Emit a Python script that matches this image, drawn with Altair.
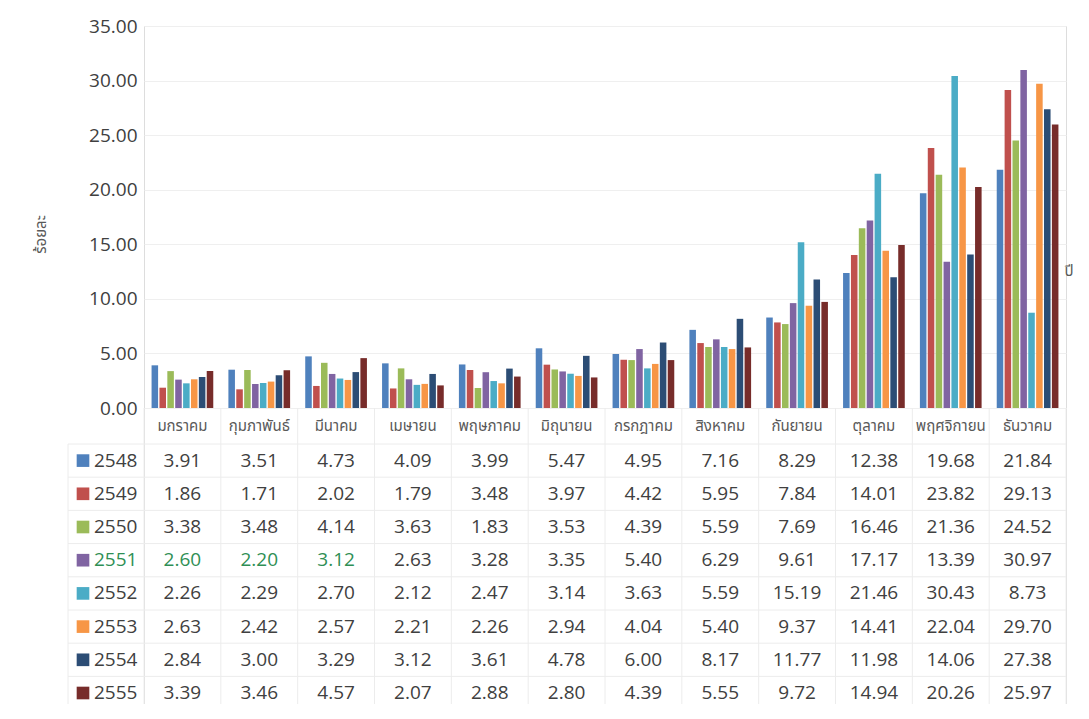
import altair as alt
import pandas as pd

months = ["มกราคม", "กุมภาพันธ์", "มีนาคม", "เมษายน", "พฤษภาคม", "มิถุนายน",
          "กรกฎาคม", "สิงหาคม", "กันยายน", "ตุลาคม", "พฤศจิกายน", "ธันวาคม"]
years = ["2548", "2549", "2550", "2551", "2552", "2553", "2554", "2555"]

v2548 = [3.91, 3.51, 4.73, 4.09, 3.99, 5.47, 4.95, 7.16, 8.29, 12.38, 19.68, 21.84]
v2549 = [1.86, 1.71, 2.02, 1.79, 3.48, 3.97, 4.42, 5.95, 7.84, 14.01, 23.82, 29.13]
v2550 = [3.38, 3.48, 4.14, 3.63, 1.83, 3.53, 4.39, 5.59, 7.69, 16.46, 21.36, 24.52]
v2551 = [2.60, 2.20, 3.12, 2.63, 3.28, 3.35, 5.40, 6.29, 9.61, 17.17, 13.39, 30.97]
v2552 = [2.26, 2.29, 2.70, 2.12, 2.47, 3.14, 3.63, 5.59, 15.19, 21.46, 30.43, 8.73]
v2553 = [2.63, 2.42, 2.57, 2.21, 2.26, 2.94, 4.04, 5.40, 9.37, 14.41, 22.04, 29.70]
v2554 = [2.84, 3.00, 3.29, 3.12, 3.61, 4.78, 6.00, 8.17, 11.77, 11.98, 14.06, 27.38]
v2555 = [3.39, 3.46, 4.57, 2.07, 2.88, 2.80, 4.39, 5.55, 9.72, 14.94, 20.26, 25.97]

y_ticks = [0, 5, 10, 15, 20, 25, 30, 35]
y_title = "ร้อยละ"
x_title = "ปี"

colors = ["#4F81BD", "#C0504D", "#9BBB59", "#8064A2",
          "#4BACC6", "#F79646", "#2C4D75", "#772C2A"]

series = dict(zip(years, [v2548, v2549, v2550, v2551, v2552, v2553, v2554, v2555]))

rows = []
for yr in years:
    for m, v in zip(months, series[yr]):
        rows.append({"month": m, "year": yr, "value": v, "label": f"{v:.2f}"})
df = pd.DataFrame(rows)
hdr = pd.DataFrame({"month": months, "row": ["_hdr"] * len(months)})
yrs = pd.DataFrame({"row": years})

W = 922
H = 678
PLOT_H = 382
ROW = 33.2
R0 = 418.0          # top of first year row (plot coords)
R_END = R0 + 8 * ROW

NUM_FONT = "Open Sans"
THAI_FONT = "Noto Sans Thai, Noto Sans, sans-serif"
TXT = "#404040"
GRID = "#efefef"
LINE = "#ececec"

xs = alt.Scale(domain=months, paddingInner=0, paddingOuter=0)
ty = alt.Scale(domain=years, range=[R0, R_END], paddingInner=0, paddingOuter=0)
th = alt.Scale(domain=["_hdr"], range=[PLOT_H, R0], paddingInner=0, paddingOuter=0)
cs = alt.Scale(domain=years, range=colors)

bars = alt.Chart(df).mark_bar().encode(
    x=alt.X("month:N", scale=xs, axis=None, sort=months),
    xOffset=alt.XOffset("year:N", scale=alt.Scale(domain=years, paddingInner=0.17, paddingOuter=0.96)),
    y=alt.Y("value:Q",
            scale=alt.Scale(domain=[0, 35], range=[PLOT_H, 0], nice=False, zero=True),
            axis=alt.Axis(values=y_ticks, format=".2f", title=y_title,
                          labelFont=NUM_FONT, labelFontSize=19, labelColor=TXT,
                          labelPadding=7, domain=False, ticks=False,
                          grid=True, gridColor=GRID, gridWidth=1,
                          titleFont=THAI_FONT, titleFontSize=15, titleColor="#595959",
                          titleFontWeight="normal", titleX=-104, titleY=208,
                          titleAngle=270, titleAlign="center", titleBaseline="middle")),
    color=alt.Color("year:N", scale=cs, legend=None),
)

hlines = alt.Chart(yrs).mark_rule(color=LINE, strokeWidth=1).encode(
    y=alt.Y("row:N", scale=ty, axis=None, bandPosition=0),
    x=alt.value(-76), x2=alt.value(W),
)

vlines = alt.Chart(hdr).mark_rule(color=LINE, strokeWidth=1).encode(
    x=alt.X("month:N", scale=xs, axis=None, bandPosition=0),
    y=alt.value(PLOT_H), y2=alt.value(R_END),
)

redge = alt.Chart(hdr.head(1)).mark_rule(color=LINE, strokeWidth=1).encode(
    x=alt.value(W), y=alt.value(PLOT_H), y2=alt.value(R_END),
)
ledge = alt.Chart(hdr.head(1)).mark_rule(color=LINE, strokeWidth=1).encode(
    x=alt.value(-76), y=alt.value(R0), y2=alt.value(R_END),
)

header = alt.Chart(hdr).mark_text(font=THAI_FONT, fontSize=15, color="#595959",
                                  baseline="middle").encode(
    x=alt.X("month:N", scale=xs, axis=None),
    y=alt.Y("row:N", scale=th, axis=None),
    text="month:N",
)

green_cond = "datum.year == '2551' && indexof(['มกราคม','กุมภาพันธ์','มีนาคม'], datum.month) >= 0"

cells = alt.Chart(df).mark_text(font=NUM_FONT, fontSize=19, baseline="middle").encode(
    x=alt.X("month:N", scale=xs, axis=None),
    y=alt.Y("year:N", scale=ty, axis=None),
    text="label:N",
    color=alt.condition(green_cond, alt.value("#2F8F55"), alt.value(TXT)),
)

keys = alt.Chart(yrs).mark_square(size=160, opacity=1).encode(
    x=alt.value(-61),
    y=alt.Y("row:N", scale=ty, axis=None),
    color=alt.Color("row:N", scale=cs, legend=None),
)

key_labels = alt.Chart(yrs).mark_text(font=NUM_FONT, fontSize=19, align="left",
                                      baseline="middle").encode(
    x=alt.value(-50),
    y=alt.Y("row:N", scale=ty, axis=None),
    text="row:N",
    color=alt.condition("datum.row == '2551'", alt.value("#2F8F55"), alt.value(TXT)),
)

year_title = alt.Chart(pd.DataFrame({"t": [x_title]})).mark_text(
    font=THAI_FONT, fontSize=15, color="#595959", align="center", baseline="middle"
).encode(x=alt.value(W + 3), y=alt.value(245), text="t:N")

chart = alt.layer(
    bars, hlines, vlines, redge, ledge, header, cells, keys, key_labels, year_title
).resolve_scale(
    y="independent", color="shared"
).properties(
    width=W, height=H,
    autosize=alt.AutoSizeParams(type="none"),
    padding={"left": 136, "top": 18, "right": 8, "bottom": 0},
).configure_view(stroke=None).configure(background="white")

chart.save("out.html", embed_options={"renderer": "svg", "actions": False})
